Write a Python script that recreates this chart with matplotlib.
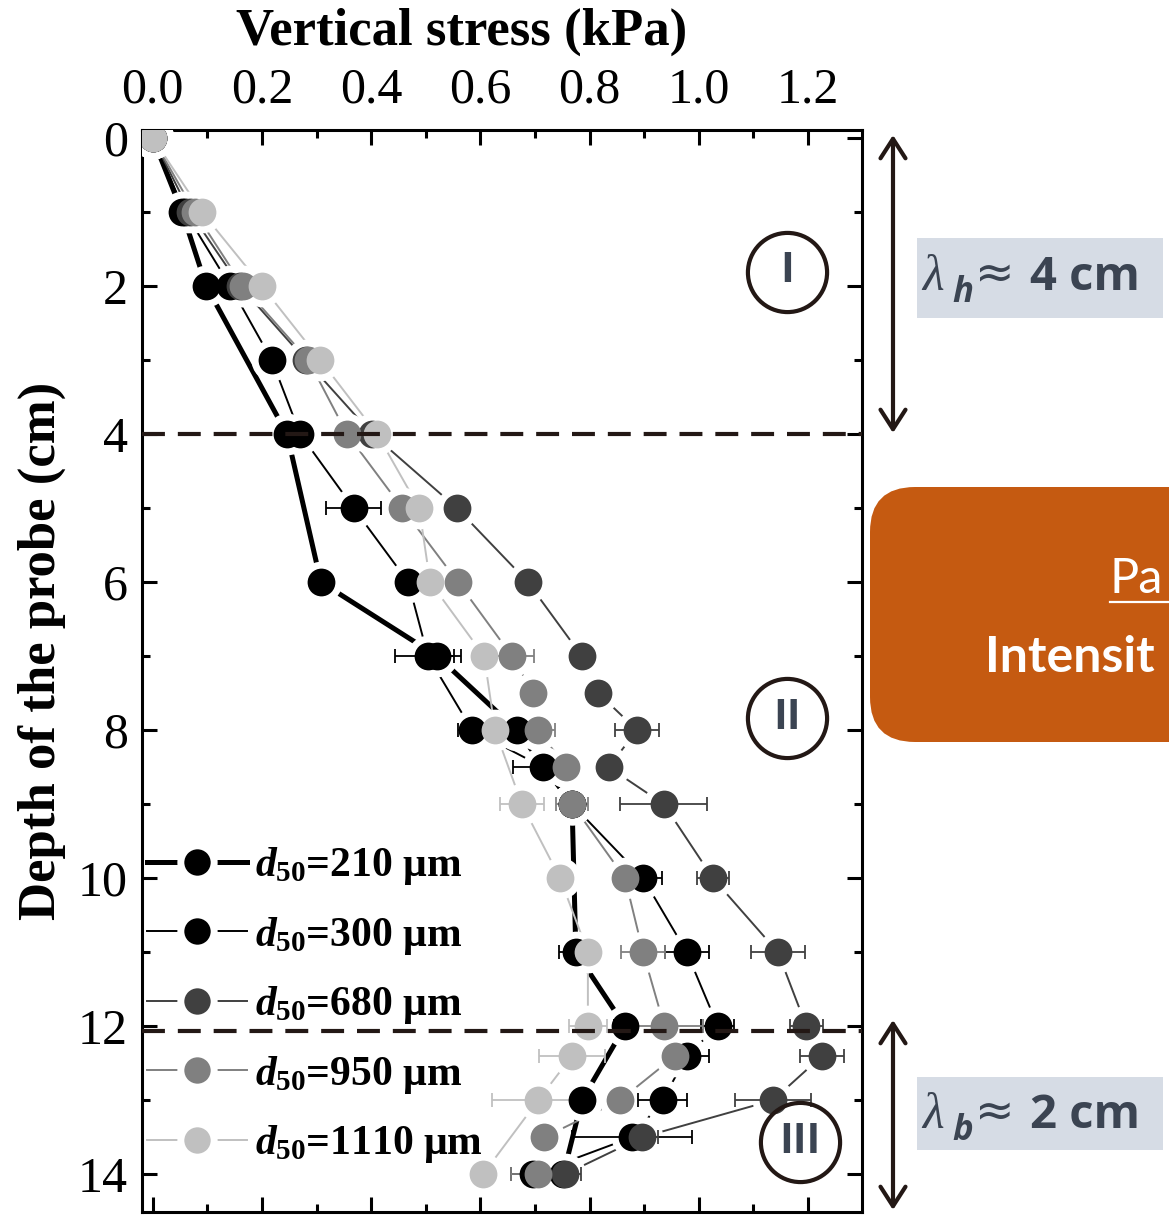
import numpy as np
import matplotlib
matplotlib.use('Agg')
import matplotlib.pyplot as plt
from matplotlib.lines import Line2D
from matplotlib.patches import FancyBboxPatch, FancyArrowPatch, Rectangle
from matplotlib.ticker import MultipleLocator

#values: depth (cm), vertical stress (kPa), horizontal error (kPa)
depth_210=[0,1,2,4,6,7,8,9,11,12,13,14]
stress_210=[0,0.054,0.098,0.246,0.308,0.521,0.667,0.768,0.775,0.865,0.786,0.752]
err_210=[0,0,0,0,0,0.03,0,0,0.03,0.02,0,0]

depth_300=[0,1,2,3,4,5,6,7,8,8.5,9,10,11,12,12.4,13,13.5,14]
stress_300=[0,0.059,0.142,0.218,0.270,0.368,0.468,0.504,0.585,0.715,0.768,0.898,0.978,1.035,0.978,0.934,0.878,0.696]
err_300=[0,0,0,0,0,0.05,0.01,0.06,0.025,0.055,0,0.035,0.04,0.03,0.04,0.045,0.11,0.04]

depth_680=[0,1,2,3,4,5,6,7,7.5,8,8.5,9,10,11,12,12.4,13,13.5,14]
stress_680=[0,0.068,0.160,0.280,0.402,0.557,0.687,0.786,0.816,0.887,0.835,0.936,1.026,1.145,1.197,1.226,1.136,0.896,0.755]
err_680=[0,0,0,0,0,0,0,0,0,0.04,0,0.08,0.03,0.05,0.03,0.04,0.07,0.03,0.03]

depth_950=[0,1,2,3,4,5,6,7,7.5,8,8.5,9,10,11,12,12.4,13,13.5,14]
stress_950=[0,0.077,0.165,0.285,0.356,0.457,0.559,0.658,0.697,0.706,0.757,0.768,0.865,0.898,0.937,0.957,0.856,0.717,0.706]
err_950=[0,0,0,0,0,0.01,0,0.04,0,0.03,0,0.03,0,0.04,0.07,0,0,0,0.05]

depth_1110=[0,1,2,3,4,5,6,7,8,9,10,11,12,12.4,13,14]
stress_1110=[0,0.090,0.200,0.307,0.411,0.488,0.508,0.607,0.627,0.676,0.746,0.797,0.797,0.768,0.706,0.605]
err_1110=[0,0,0,0,0,0.01,0,0,0,0.04,0,0.02,0.035,0.06,0.085,0]

labels=['210','300','680','950','1110']
colors=['#000000','#000000','#404040','#808080','#c0c0c0']
widths=[3.6,1.4,1.4,1.4,1.4]

x_ticks=[0.0,0.2,0.4,0.6,0.8,1.0,1.2]
y_ticks=[0,2,4,6,8,10,12,14]

series=[(stress_210,depth_210,err_210),(stress_300,depth_300,err_300),
	(stress_680,depth_680,err_680),(stress_950,depth_950,err_950),
	(stress_1110,depth_1110,err_1110)]

plt.rcParams['font.family']='Liberation Serif'
plt.rcParams['mathtext.fontset']='custom'
plt.rcParams['mathtext.rm']='Liberation Serif:bold'
plt.rcParams['mathtext.it']='Liberation Serif:italic:bold'
plt.rcParams['mathtext.bf']='Liberation Serif:bold'

W,H=1169,1216
fig=plt.figure(figsize=(W/100,H/100),dpi=100)
ax=fig.add_axes([142/W,4/H,720/W,1082/H])

#lines first, then white halos so lines stop short of the symbols
for (x,y,e),c,lw in zip(series,colors,widths):
	ax.plot(x,y,color=c,lw=lw,zorder=2)
for (x,y,e) in series:
	ax.plot(x,y,'o',ms=30,mfc='white',mec='none',zorder=3)
for (x,y,e),c in zip(series,colors):
	ax.errorbar(x,y,xerr=e,fmt='none',ecolor=c,elinewidth=1.3,capsize=5,capthick=1.3,zorder=4)
for i,((x,y,e),c) in enumerate(zip(series,colors)):
	ax.plot(x,y,'o',ms=20,mfc=c,mec='none',zorder=5+i)

#layer boundaries
ax.axhline(4.0,color='#231815',lw=3,ls=(0,(5.5,3.1)),zorder=30)
ax.axhline(12.07,color='#231815',lw=3,ls=(0,(5.5,3.1)),zorder=30)

#zone markers
for xc,yc,txt in [(1.162,1.81,'I'),(1.162,7.84,'II'),(1.186,13.57,'III')]:
	ax.plot([xc],[yc],'o',ms=57,mfc='none',mec='#231815',mew=3,zorder=31)
	ax.text(xc,yc,txt,ha='center',va='center',fontsize=30,fontweight='bold',
		family=['Open Sans','DejaVu Sans'],color='#3b4452',zorder=32)

ax.set_xlim(-0.0196,1.299)
ax.set_ylim(14.51,-0.108)
ax.set_xticks(x_ticks)
ax.set_xticklabels(['%.1f'%v for v in x_ticks])
ax.set_yticks(y_ticks)
ax.xaxis.set_minor_locator(MultipleLocator(0.1))
ax.yaxis.set_minor_locator(MultipleLocator(1))
ax.tick_params(which='both',direction='in',top=True,bottom=True,left=True,right=True,
	labeltop=True,labelbottom=False,width=2.2,labelsize=36)
ax.tick_params(which='major',length=11)
ax.tick_params(which='minor',length=6)
ax.tick_params(axis='x',pad=12)
ax.tick_params(axis='y',pad=10)
for s in ax.spines.values():
	s.set_linewidth(2.2)

fig.text(462/W,1-32/H,'Vertical stress (kPa)',ha='center',va='center',fontsize=38,fontweight='bold')
fig.text(42/W,1-651/H,'Depth of the probe (cm)',ha='center',va='center',rotation=90,fontsize=38,fontweight='bold')

#legend with white ring round the symbol
handles=[Line2D([],[],color=c,lw=lw,marker='o',ms=24,mfc=c,mec='white',mew=5)
	for c,lw in zip(colors,widths)]
names=[r'$d_{\mathbf{50}}$=%s μm'%l for l in labels]
leg=ax.legend(handles,names,loc='upper left',bbox_to_anchor=(0.007,0.339),frameon=False,
	prop={'family':'Liberation Serif','weight':'bold','size':30},handlelength=2.4,
	handletextpad=0.2,labelspacing=0.66,borderpad=0,borderaxespad=0,numpoints=1)

#right-hand annotations
dpi_t=fig.dpi_scale_trans
def inch(px,py):
	return (px/100,(H-py)/100)

for top,bot in [(135,433),(1020,1210)]:
	arr=FancyArrowPatch(inch(893,top),inch(893,bot),arrowstyle='<->,head_length=0.7,head_width=0.45',
		mutation_scale=20,lw=3,color='#231815',shrinkA=0,shrinkB=0,transform=dpi_t)
	fig.add_artist(arr)

for (x0,y0,x1,y1),sub,num,base in [((917,238,1163,318),'h','4',290),((917,1077,1163,1150),'b','2',1128)]:
	fig.add_artist(Rectangle(inch(x0,y1),(x1-x0)/100,(y1-y0)/100,fc='#d6dce5',ec='none',transform=dpi_t))
	fig.text(922/W,1-base/H,'λ',ha='left',va='baseline',fontsize=36,style='italic',color='#3b4452')
	fig.text(952/W,1-(base+12)/H,sub,ha='left',va='baseline',fontsize=25,style='italic',
		fontweight='bold',family=['Open Sans','DejaVu Sans'],color='#3b4452')
	fig.text(975/W,1-(base-2)/H,'≈',ha='left',va='baseline',fontsize=34,
		family=['DejaVu Sans'],color='#3b4452')
	fig.text(1030/W,1-base/H,'%s cm'%num,ha='left',va='baseline',fontsize=34,
		fontweight='bold',family=['Open Sans','DejaVu Sans'],color='#3b4452')

fig.add_artist(FancyBboxPatch(inch(870,742),4.0,2.55,boxstyle='round,pad=0,rounding_size=0.45',
	fc='#c55a11',ec='none',transform=dpi_t))
fig.text(1110/W,1-593/H,'Pa',ha='left',va='baseline',fontsize=35,family=['Lato','DejaVu Sans'],color='white')
fig.add_artist(Line2D([11.10,11.75],[(H-602)/100]*2,color='white',lw=1.6,transform=dpi_t))
fig.text(985/W,1-672/H,'Intensit',ha='left',va='baseline',fontsize=36,fontweight='bold',
	family=['Lato','DejaVu Sans'],color='white')

fig.savefig('out.png',dpi=100)
